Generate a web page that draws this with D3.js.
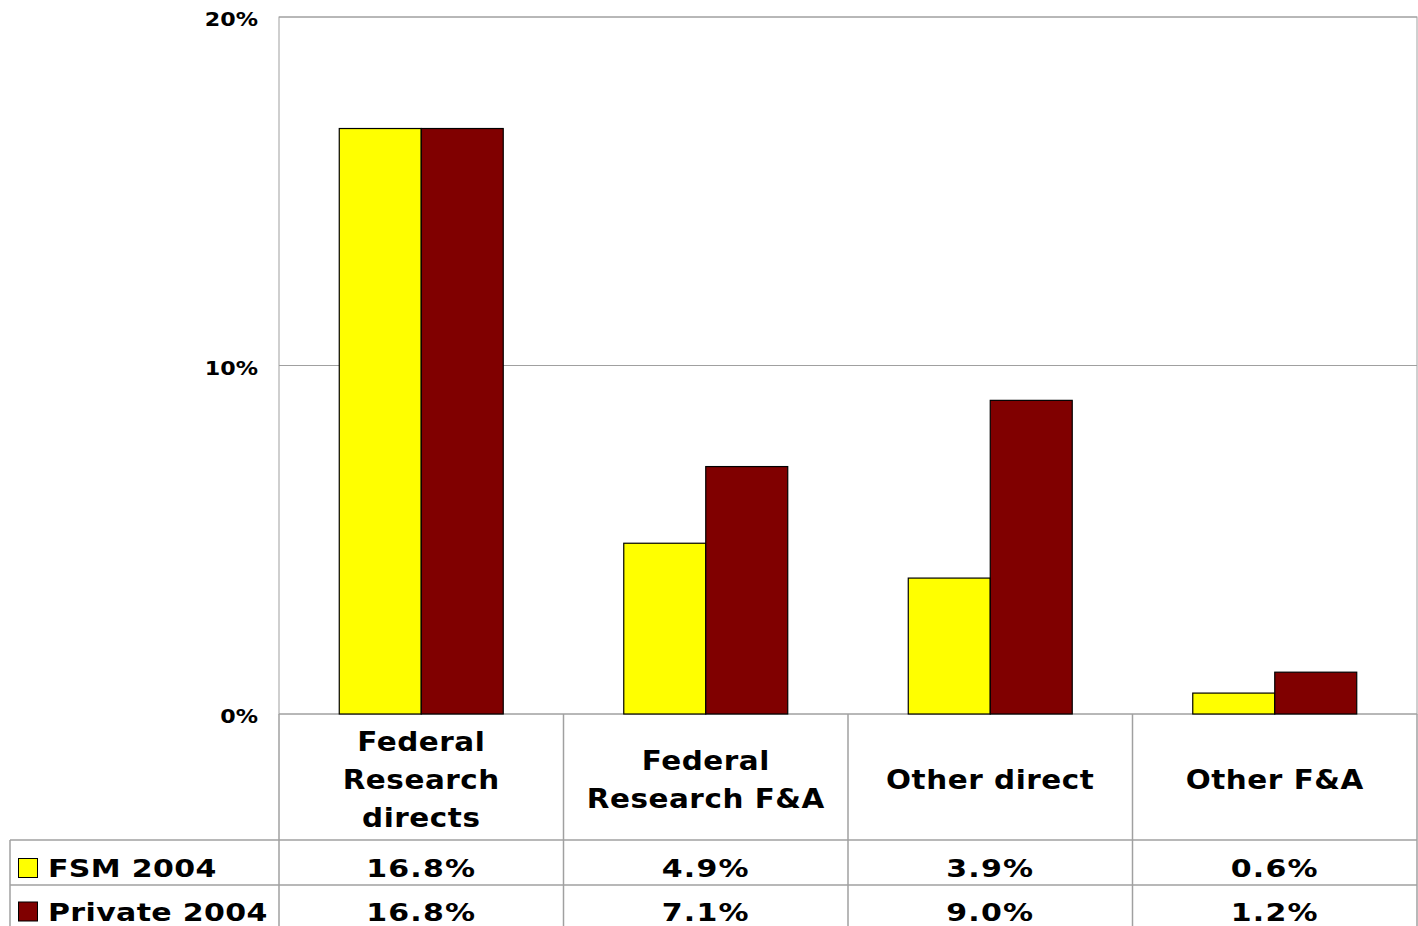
<!DOCTYPE html>
<html>
<head>
<meta charset="utf-8">
<script src="https://cdn.jsdelivr.net/npm/d3@7"></script>
<style>
  html, body { margin: 0; padding: 0; background: #fff; overflow: hidden; }
  svg { display: block; font-family: "DejaVu Sans", Verdana, sans-serif; font-weight: bold; }
</style>
</head>
<body>
<svg id="chart" width="1418" height="926"></svg>
<script>
const categories = [["Federal", "Research", "directs"], ["Federal", "Research F&A"], ["Other direct"], ["Other F&A"]];
const seriesNames = ["FSM 2004", "Private 2004"];
const fsm2004 = [16.8, 4.9, 3.9, 0.6];
const private2004 = [16.8, 7.1, 9.0, 1.2];
const valueLabels = [["16.8%", "4.9%", "3.9%", "0.6%"], ["16.8%", "7.1%", "9.0%", "1.2%"]];
const yTicks = [0, 10, 20];
const colors = ["#FFFF00", "#800000"];

(function () {
const series = [fsm2004, private2004];
const svg = d3.select("#chart");
const mLeft = 279, mRight = 1417, mTop = 17, mBottom = 714;
const gridColor = "#a0a0a0";
const SX = 1.18; // horizontal stretch of the original glyphs

const x = d3.scaleBand().domain(d3.range(categories.length)).range([mLeft, mRight]).paddingInner(0).paddingOuter(0);
const xs = d3.scaleBand().domain(d3.range(series.length)).range([0, x.bandwidth()]).paddingInner(0).paddingOuter(0.735);
const y = d3.scaleLinear().domain([0, 20]).range([mBottom, mTop]);

// stretched text helper
function label(parent, px, py, txt, opts) {
  const g = parent.append("g").attr("transform", `translate(${px},${py}) scale(${opts.sx || SX},1)`);
  return g.append("text").attr("x", 0).attr("y", 0).attr("dy", opts.dy || "0.36em")
    .attr("text-anchor", opts.anchor || "middle").attr("font-size", opts.fs)
    .attr("font-family", "DejaVu Sans, Verdana, sans-serif").attr("font-weight", "bold")
    .attr("letter-spacing", opts.ls || 0).attr("fill", "#000").text(txt);
}

// plot frame
svg.append("rect").attr("x", mLeft).attr("y", mTop).attr("width", mRight - mLeft).attr("height", mBottom - mTop)
  .attr("fill", "none").attr("stroke", gridColor).attr("stroke-width", 1);

// gridlines
svg.append("g").selectAll("line").data(yTicks).join("line")
  .attr("x1", mLeft).attr("x2", mRight).attr("y1", d => y(d)).attr("y2", d => y(d))
  .attr("stroke", gridColor).attr("stroke-width", 1);

// y axis labels (axis for positions, stretched text)
const yAxis = d3.axisLeft(y).tickValues(yTicks).tickFormat(d => d + "%").tickSize(0).tickPadding(21);
const ya = svg.append("g").attr("transform", `translate(${mLeft},0)`).call(yAxis);
ya.select(".domain").remove();
ya.selectAll(".tick text").each(function (d) {
  const tick = d3.select(this.parentNode);
  d3.select(this).remove();
  label(tick, -21, 0, d + "%", { fs: 19, sx: 1.17, anchor: "end", dy: "0.45em" });
});

// bars
series.forEach((s, si) => {
  svg.append("g").selectAll("rect").data(s).join("rect")
    .attr("x", (d, i) => x(i) + xs(si))
    .attr("y", d => y(d))
    .attr("width", xs.bandwidth())
    .attr("height", d => y(0) - y(d))
    .attr("fill", colors[si])
    .attr("stroke", "#000").attr("stroke-width", 1.2);
});

// data table
const rowLines = [840, 885];
const tbl = svg.append("g").attr("stroke", gridColor).attr("stroke-width", 1.5);
d3.range(categories.length + 1).forEach(i => {
  const xx = i < categories.length ? x(i) : mRight;
  tbl.append("line").attr("x1", xx).attr("x2", xx).attr("y1", mBottom).attr("y2", 926);
});
tbl.append("line").attr("x1", 10).attr("x2", 10).attr("y1", rowLines[0]).attr("y2", 926);
rowLines.forEach(yy => {
  tbl.append("line").attr("x1", 10).attr("x2", mRight).attr("y1", yy).attr("y2", yy);
});

// category labels
const lineH = 38;
categories.forEach((lines, i) => {
  const cx = x(i) + x.bandwidth() / 2;
  const cy = 779;
  lines.forEach((ln, k) => {
    label(svg, cx, cy + (k - (lines.length - 1) / 2) * lineH, ln, { fs: 27, sx: 1.09, ls: 0.5 });
  });
});

// values rows + legend keys
const rowCenters = [868, 911.5];
valueLabels.forEach((row, si) => {
  row.forEach((v, i) => {
    label(svg, x(i) + x.bandwidth() / 2, rowCenters[si], v, { fs: 25, sx: 1.2, ls: 1 });
  });
  svg.append("rect").attr("x", 18.5).attr("y", rowCenters[si] - 9.5).attr("width", 19).attr("height", 19)
    .attr("fill", colors[si]).attr("stroke", "#000").attr("stroke-width", 1);
  label(svg, 48, rowCenters[si], seriesNames[si], { fs: 25, sx: 1.2, ls: 0.3, anchor: "start" });
});
})();
</script>
</body>
</html>
